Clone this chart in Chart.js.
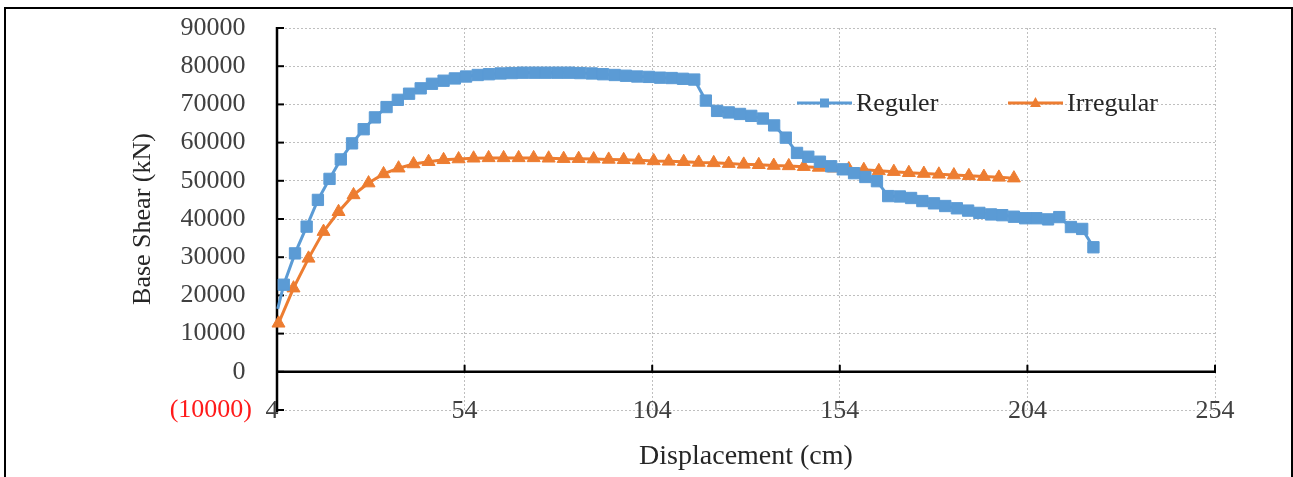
<!DOCTYPE html>
<html>
<head>
<meta charset="utf-8">
<script src="https://cdn.jsdelivr.net/npm/chart.js@4.4.1/dist/chart.umd.min.js"></script>
<style>
  html, body { margin: 0; padding: 0; background: #fff; }
  #wrap { position: relative; width: 1293px; height: 477px; overflow: hidden; }
  #c { position: absolute; left: 0; top: 0; }
  #frame { position: absolute; left: 4px; top: 7px; width: 1285px; height: 500px;
           border: 2px solid #000; pointer-events: none; }
</style>
</head>
<body>
<div id="wrap">
  <canvas id="c" width="1293" height="477"></canvas>
  <div id="frame"></div>
</div>
<script>
// ---- data ----
const regularX = [4.2, 5.8, 8.8, 11.9, 14.9, 18.0, 21.0, 24.0, 27.1, 30.1, 33.2, 36.2, 39.2, 42.3, 45.3, 48.4,
  51.4, 54.4, 57.5, 60.5, 63.6, 66.6, 69.6, 72.7, 75.7, 78.8, 81.8, 84.8, 87.9, 90.9, 94.0, 97.0,
  100.0, 103.1, 106.1, 109.2, 112.2, 115.2, 118.3, 121.3, 124.4, 127.4, 130.4, 133.5, 136.5, 139.6,
  142.6, 145.6, 148.7, 151.7, 154.8, 157.8, 160.8, 163.9, 166.9, 170.0, 173.0, 176.0, 179.1, 182.1,
  185.2, 188.2, 191.2, 194.3, 197.3, 200.4, 203.4, 206.4, 209.5, 212.5, 215.6, 218.6, 221.6];
const regularY = [16500, 22800, 31000, 38000, 45000, 50500, 55600, 59800, 63500, 66600, 69300, 71200, 72800, 74200, 75400, 76200,
  76800, 77300, 77700, 77900, 78100, 78200, 78300, 78300, 78300, 78300, 78300, 78200, 78100, 77900, 77700, 77500,
  77300, 77200, 77000, 76900, 76700, 76500, 71000, 68300, 67900, 67500, 67000, 66300, 64500, 61300,
  57300, 56300, 55000, 53800, 53000, 52000, 51000, 49900, 46000, 45900, 45500, 44700, 44100, 43400,
  42800, 42200, 41600, 41200, 41000, 40600, 40200, 40200, 39900, 40500, 37900, 37400, 32600];
const irregularX = [4.4, 8.4, 12.4, 16.4, 20.4, 24.4, 28.4, 32.4, 36.4, 40.4, 44.4, 48.4, 52.4, 56.4, 60.4, 64.4,
  68.4, 72.4, 76.4, 80.4, 84.4, 88.4, 92.4, 96.4, 100.4, 104.4, 108.4, 112.4, 116.4, 120.4, 124.4,
  128.4, 132.4, 136.4, 140.4, 144.4, 148.4, 152.4, 156.4, 160.4, 164.4, 168.4, 172.4, 176.4, 180.4,
  184.4, 188.4, 192.4, 196.4, 200.4];
const irregularY = [12700, 21900, 29700, 36700, 41900, 46300, 49400, 51800, 53300, 54400, 55000, 55500, 55700, 55900, 56000, 56000,
  56000, 56000, 55900, 55800, 55800, 55700, 55600, 55500, 55400, 55200, 55100, 55000, 54800, 54700, 54500,
  54300, 54200, 54000, 53900, 53700, 53500, 53300, 53100, 52900, 52600, 52400, 52100, 51900, 51700,
  51500, 51300, 51100, 50900, 50700];
const seriesNames = ['Reguler', 'Irregular'];
const xTickValues = [4, 54, 104, 154, 204, 254];
const yMin = -10000, yMax = 90000, yStep = 10000;
const xTitle = 'Displacement (cm)';
const yTitle = 'Base Shear (kN)';

const BLUE = '#5B9BD5', ORANGE = '#ED7D31';
const SERIF = '"Liberation Serif", "DejaVu Serif", serif';
const TICK_COLOR = '#404040';
const GRID_COLOR = '#bfbfbf';

const toPts = (xs, ys) => xs.map((x, i) => ({ x: x, y: ys[i] }));

const axesPlugin = {
  id: 'excelAxes',
  beforeDatasetsDraw(chart) {
    const { ctx, chartArea: a, scales: { x, y } } = chart;
    const y0 = y.getPixelForValue(0);
    ctx.save();
    ctx.strokeStyle = '#000';
    ctx.lineWidth = 2.5;
    ctx.beginPath(); ctx.moveTo(a.left, a.top - 1); ctx.lineTo(a.left, a.bottom + 2); ctx.stroke();
    ctx.beginPath(); ctx.moveTo(a.left, y0); ctx.lineTo(a.right + 1, y0); ctx.stroke();
    ctx.lineWidth = 2;
    y.ticks.forEach(t => {
      const p = y.getPixelForValue(t.value);
      ctx.beginPath(); ctx.moveTo(a.left, p); ctx.lineTo(a.left + 7, p); ctx.stroke();
    });
    x.ticks.forEach(t => {
      const p = x.getPixelForValue(t.value);
      ctx.beginPath(); ctx.moveTo(p, y0); ctx.lineTo(p, y0 - 7); ctx.stroke();
    });
    // x tick labels, drawn low (beside the bottom of the plot) as in the reference
    ctx.fillStyle = TICK_COLOR;
    ctx.font = '26px ' + SERIF;
    ctx.textAlign = 'center'; ctx.textBaseline = 'middle';
    x.ticks.forEach((t, i) => {
      const p = x.getPixelForValue(t.value);
      ctx.fillText(String(xTickValues[i]), p + (i === 0 ? -5 : 0), a.bottom + 1);
    });
    ctx.restore();
  }
};

const legendPlugin = {
  id: 'insideLegend',
  afterDraw(chart) {
    const { ctx } = chart;
    const yL = 103;
    const items = [
      { name: seriesNames[0], color: BLUE, style: 'rect', x0: 797, x1: 852, tx: 856 },
      { name: seriesNames[1], color: ORANGE, style: 'triangle', x0: 1008, x1: 1063, tx: 1067 }
    ];
    ctx.save();
    items.forEach(it => {
      ctx.strokeStyle = it.color; ctx.fillStyle = it.color; ctx.lineWidth = 3;
      ctx.beginPath(); ctx.moveTo(it.x0, yL); ctx.lineTo(it.x1, yL); ctx.stroke();
      const cx = (it.x0 + it.x1) / 2;
      if (it.style === 'rect') {
        ctx.fillRect(cx - 4.5, yL - 4.5, 9, 9);
      } else {
        ctx.beginPath(); ctx.moveTo(cx, yL - 6); ctx.lineTo(cx + 5.5, yL + 4); ctx.lineTo(cx - 5.5, yL + 4); ctx.closePath(); ctx.fill();
      }
      ctx.fillStyle = '#262626';
      ctx.font = '26px ' + SERIF;
      ctx.textAlign = 'left'; ctx.textBaseline = 'middle';
      ctx.fillText(it.name, it.tx, yL + 1);
    });
    ctx.restore();
  }
};

new Chart(document.getElementById('c'), {
  type: 'line',
  data: {
    datasets: [
      {
        label: seriesNames[0],
        data: toPts(regularX, regularY),
        borderColor: BLUE, backgroundColor: BLUE,
        borderWidth: 3, pointStyle: 'rect',
        pointRadius: regularX.map((v, i) => i === 0 ? 0 : 8),
        pointBorderWidth: 1, pointBorderColor: BLUE, pointBackgroundColor: BLUE,
        tension: 0, clip: false
      },
      {
        label: seriesNames[1],
        data: toPts(irregularX, irregularY),
        borderColor: ORANGE, backgroundColor: ORANGE,
        borderWidth: 3, pointStyle: 'triangle', pointRadius: 7.5,
        pointBorderWidth: 1, pointBorderColor: ORANGE, pointBackgroundColor: ORANGE,
        tension: 0, clip: false
      }
    ]
  },
  options: {
    responsive: false,
    animation: false,
    events: [],
    layout: { padding: { left: 0, right: 78, top: 28, bottom: 0 } },
    plugins: { legend: { display: false }, tooltip: { enabled: false } },
    scales: {
      x: {
        type: 'linear', min: xTickValues[0], max: xTickValues[xTickValues.length - 1],
        afterBuildTicks: s => { s.ticks = xTickValues.map(v => ({ value: v })); },
        afterFit: s => { s.height = 67; s.paddingLeft = 0; s.paddingRight = 0; },
        grid: { color: GRID_COLOR, lineWidth: 1, drawTicks: false },
        border: { display: false, dash: [2, 2] },
        ticks: { display: false },
        title: { display: true, text: xTitle, color: '#262626', font: { family: SERIF, size: 28 },
                 padding: { top: 0, bottom: 4 } }
      },
      y: {
        type: 'linear', min: yMin, max: yMax,
        ticks: { stepSize: yStep, font: { family: SERIF, size: 26 }, padding: 25,
                 color: c => (c.tick && c.tick.value < 0) ? '#ff1a1a' : TICK_COLOR,
                 callback: v => v < 0 ? '(' + Math.abs(v) + ')' : v + ' ' },
        afterFit: s => { s.width = 277; s.paddingTop = 0; s.paddingBottom = 0; },
        grid: { color: GRID_COLOR, lineWidth: 1, drawTicks: false },
        border: { display: false, dash: [2, 2] },
        title: { display: true, text: yTitle, color: '#262626', font: { family: SERIF, size: 26 },
                 padding: { top: 128, bottom: 0 } }
      }
    }
  },
  plugins: [axesPlugin, legendPlugin]
});
</script>
</body>
</html>
